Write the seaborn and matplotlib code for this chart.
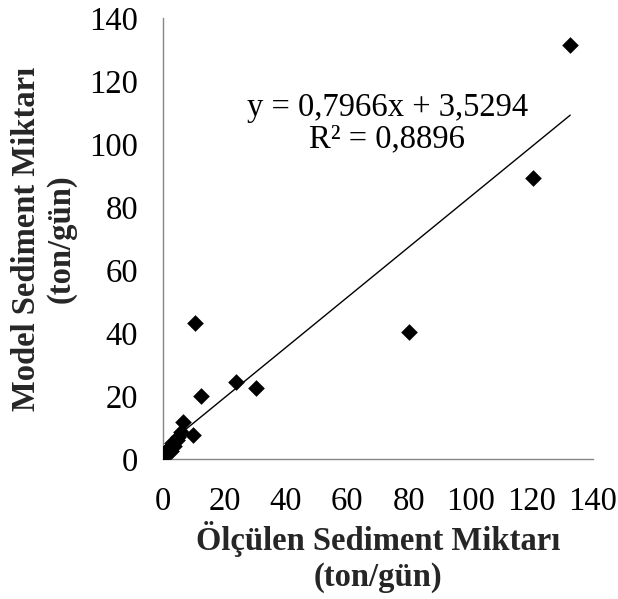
import numpy as np
import pandas as pd
import matplotlib
matplotlib.use("Agg")
import matplotlib.pyplot as plt
import seaborn as sns

# Data
measured = [0.5, 1.0, 1.5, 2.0, 2.5, 3.0, 3.5, 4.5, 5.0, 6.0, 6.6, 9.7,
            10.4, 12.4, 23.8, 30.3, 80.1, 120.5, 132.6]
model = [1.5, 2.5, 1.8, 3.5, 2.5, 5.0, 4.0, 6.0, 7.0, 8.5, 11.9, 7.6,
         43.2, 20.0, 24.4, 22.5, 40.3, 89.2, 131.4]
slope = 0.7966
intercept = 3.5294
r2 = 0.8896
ticks = [0, 20, 40, 60, 80, 100, 120, 140]

df = pd.DataFrame({"x": measured, "y": model})

sns.set_theme(style="white")
plt.rcParams["font.family"] = ["Liberation Serif", "DejaVu Serif"]

FS = 23.5

fig = plt.figure(figsize=(6.18, 5.99), dpi=100)
ax = fig.add_axes([0.2638, 0.2337, 0.6957, 0.7363])

sns.scatterplot(data=df, x="x", y="y", marker="D", s=72, color="black",
                linewidth=0, ax=ax, zorder=3)

xl = np.array([0, max(measured)])
ax.plot(xl, slope * xl + intercept, color="black", linewidth=1.0, zorder=2)

eq = f"y = {slope:.4f}x + {intercept:.4f}".replace(".", ",")
rt = f"R² = {r2:.4f}".replace(".", ",")
ax.text(73, 106.5, eq + "\n" + rt, ha="center", va="center", fontsize=FS,
        linespacing=1.05, color="black")

ax.set_xlim(0, 140)
ax.set_ylim(0, 140)
ax.set_xticks(ticks)
ax.set_yticks(ticks)
ax.tick_params(axis="x", length=0, labelsize=FS, pad=19.5, colors="black")
ax.tick_params(axis="y", length=0, labelsize=FS, pad=18, colors="black")
sns.despine(ax=ax)
for s in ["left", "bottom"]:
    ax.spines[s].set_color("#868686")
    ax.spines[s].set_linewidth(1.0)

ax.set_xlabel("Ölçülen Sediment Miktarı\n(ton/gün)", fontsize=FS,
              fontweight="bold", labelpad=3.5, linespacing=1.18)
ax.set_ylabel("Model Sediment Miktarı\n(ton/gün)", fontsize=FS,
              fontweight="bold", labelpad=9, linespacing=1.15)

fig.savefig("out.png", dpi=100)
